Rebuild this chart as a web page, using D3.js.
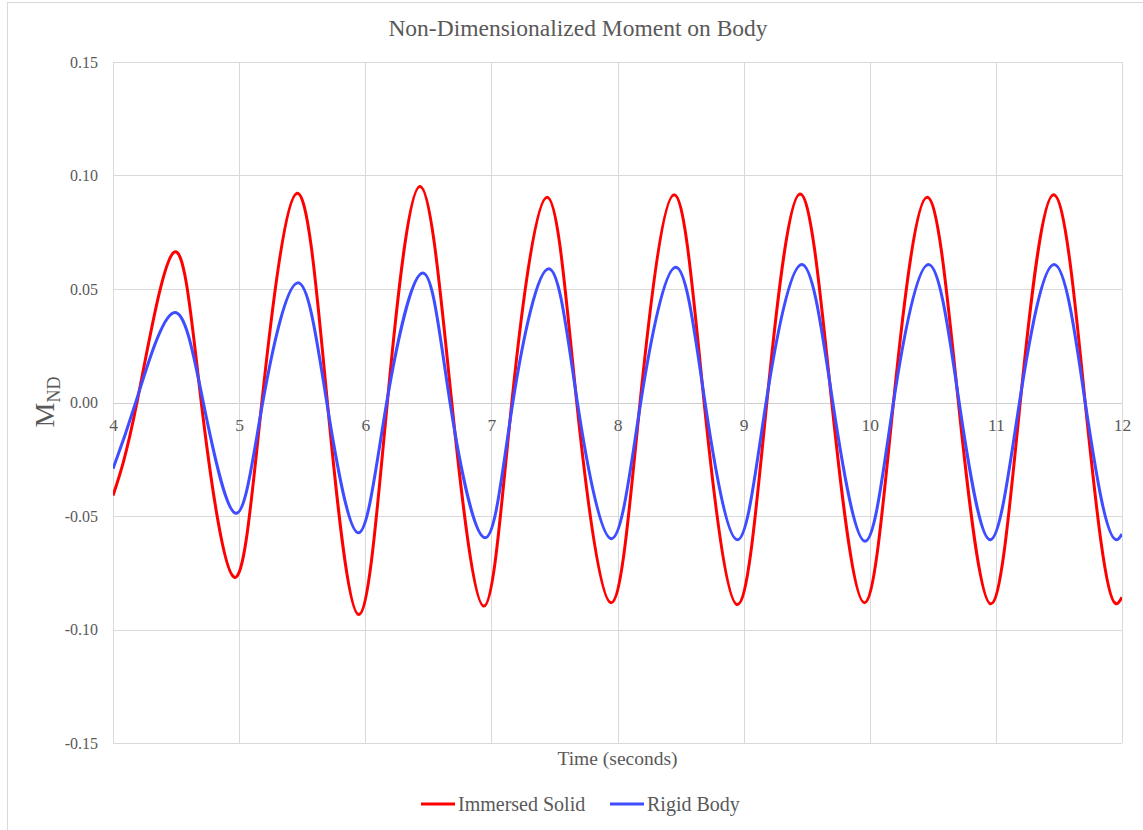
<!DOCTYPE html>
<html>
<head>
<meta charset="utf-8">
<script src="https://cdn.jsdelivr.net/npm/d3@7"></script>
<style>
  html, body { margin: 0; padding: 0; background: #fff; }
  svg { display: block; }
</style>
</head>
<body>
<svg id="chart" width="1143" height="830"></svg>
<script>
// ---- Data ----
const title = "Non-Dimensionalized Moment on Body";
const xTicks = [4, 5, 6, 7, 8, 9, 10, 11, 12];
const yTicks = [-0.15, -0.10, -0.05, 0.00, 0.05, 0.10, 0.15];
const seriesNames = ["Immersed Solid", "Rigid Body"];

const immersedT = [4.00, 4.19, 4.484, 4.70, 4.962, 5.18, 5.459, 5.70, 5.948, 6.175, 6.435, 6.686, 6.942,
  7.162, 7.442, 7.677, 7.949, 8.179, 8.449, 8.687, 8.951, 9.184, 9.448, 9.699, 9.958, 10.188, 10.455,
  10.703, 10.960, 11.193, 11.457, 11.708, 11.957, 12.0];
const immersedV = [-0.041, 0, 0.0662, 0, -0.077, 0, 0.0922, 0, -0.0934, 0, 0.0952, 0, -0.0897,
  0, 0.0904, 0, -0.0882, 0, 0.0915, 0, -0.089, 0, 0.0919, 0, -0.0882, 0, 0.0904,
  0, -0.0887, 0, 0.0915, 0, -0.0887, -0.0858];

const rigidT = [4.00, 4.18, 4.478, 4.716, 4.973, 5.187, 5.464, 5.695, 5.945, 6.17, 6.456, 6.672, 6.95,
  7.17, 7.455, 7.682, 7.952, 8.184, 8.462, 8.694, 8.951, 9.178, 9.461, 9.707, 9.963, 10.188, 10.466,
  10.709, 10.955, 11.187, 11.462, 11.708, 11.957, 12.0];
const rigidV = [-0.0292, 0, 0.0395, 0, -0.0488, 0, 0.0527, 0, -0.0574, 0, 0.057, 0, -0.0596,
  0, 0.0589, 0, -0.06, 0, 0.0596, 0, -0.0605, 0, 0.0608, 0, -0.0611, 0, 0.0608,
  0, -0.0605, 0, 0.0608, 0, -0.0605, -0.0579];

// ---- Layout ----
const FONT = '"Liberation Serif", Tinos, "DejaVu Serif", "Noto Serif", "Times New Roman", Times, serif';
const TXT = "#595959";
const svg = d3.select("#chart");
const plot = { left: 113, right: 1122, top: 62, bottom: 743 };
const x = d3.scaleLinear().domain([4, 12]).range([plot.left, plot.right]);
const y = d3.scaleLinear().domain([-0.15, 0.15]).range([plot.bottom, plot.top]);

svg.append("rect").attr("width", 1143).attr("height", 830).attr("fill", "#fff");
svg.append("rect").attr("x", 7.5).attr("y", 2.5).attr("width", 1150).attr("height", 840)
  .attr("fill", "none").attr("stroke", "#d9d9d9").attr("stroke-width", 1);

const txt = (sel) => sel.style("font-family", FONT).attr("fill", TXT);

// title
svg.append("text").attr("x", 578).attr("y", 36).attr("text-anchor", "middle")
  .attr("font-size", 23.5).call(txt).text(title);

// gridlines
const grid = svg.append("g");
grid.selectAll("line.h").data(yTicks).join("line")
  .attr("x1", plot.left).attr("x2", plot.right)
  .attr("y1", d => Math.round(y(d)) + 0.5).attr("y2", d => Math.round(y(d)) + 0.5)
  .attr("stroke", d => d === 0 ? "#cfcfcf" : "#d9d9d9").attr("stroke-width", 1);
grid.selectAll("line.v").data(xTicks).join("line")
  .attr("y1", plot.top).attr("y2", plot.bottom)
  .attr("x1", d => Math.round(x(d)) + 0.5).attr("x2", d => Math.round(x(d)) + 0.5)
  .attr("stroke", "#d9d9d9").attr("stroke-width", 1);

// y axis labels
const fmtY = d => d3.format(".2f")(d).replace("\u2212", "-");
const yAxis = d3.axisLeft(y).tickValues(yTicks).tickFormat(fmtY).tickSize(0).tickPadding(15);
const yg = svg.append("g").attr("transform", `translate(${plot.left},0)`).call(yAxis);
yg.select(".domain").remove();
yg.selectAll("text").attr("font-size", 16).call(txt);

// x axis labels (axis crosses at zero)
const xAxis = d3.axisBottom(x).tickValues(xTicks).tickFormat(d3.format("d")).tickSize(0).tickPadding(16);
const xg = svg.append("g").attr("transform", `translate(0,${y(0)})`).call(xAxis);
xg.select(".domain").remove();
xg.selectAll("text").attr("font-size", 17.5).call(txt);

// axis titles
svg.append("text").attr("x", (plot.left + plot.right) / 2).attr("y", 765)
  .attr("text-anchor", "middle").attr("font-size", 19.5).call(txt).text("Time (seconds)");
const yl = svg.append("text").attr("transform", "translate(54,402) rotate(-90)")
  .attr("text-anchor", "middle").attr("font-size", 28).call(txt);
yl.append("tspan").text("M");
yl.append("tspan").attr("font-size", 18).attr("dy", 6).text("ND");

// lines
const colors = ["#ff0000", "#3d4dff"];
const datasets = [
  immersedT.map((t, i) => ({ t, v: immersedV[i] })),
  rigidT.map((t, i) => ({ t, v: rigidV[i] }))
];
const smooth = d3.line().x(d => x(d.t)).y(d => y(d.v)).curve(d3.curveNatural);
const tail = d3.line().x(d => x(d.t)).y(d => y(d.v)).curve(d3.curveMonotoneX);
svg.append("defs").append("clipPath").attr("id", "clip")
  .append("rect").attr("x", plot.left).attr("y", plot.top - 5)
  .attr("width", plot.right - plot.left).attr("height", plot.bottom - plot.top + 10);
const lg0 = svg.append("g").attr("clip-path", "url(#clip)");
datasets.forEach((d, i) => {
  const n = d.length;
  // natural spline up to the last zero crossing, monotone for the short final stretch
  const path = smooth(d.slice(0, n - 2)) + tail(d.slice(n - 3)).replace(/^M[^C]*/, "");
  lg0.append("path").attr("d", path).attr("fill", "none")
    .attr("stroke", colors[i]).attr("stroke-width", 3).attr("stroke-linejoin", "round");
});

// legend
const legend = [
  { name: seriesNames[0], color: colors[0], x: 421 },
  { name: seriesNames[1], color: colors[1], x: 610 }
];
const lg = svg.append("g");
legend.forEach(l => {
  lg.append("line").attr("x1", l.x).attr("x2", l.x + 34).attr("y1", 804).attr("y2", 804)
    .attr("stroke", l.color).attr("stroke-width", 3);
  lg.append("text").attr("x", l.x + 37).attr("y", 811).attr("font-size", 20).call(txt).text(l.name);
});
</script>
</body>
</html>
